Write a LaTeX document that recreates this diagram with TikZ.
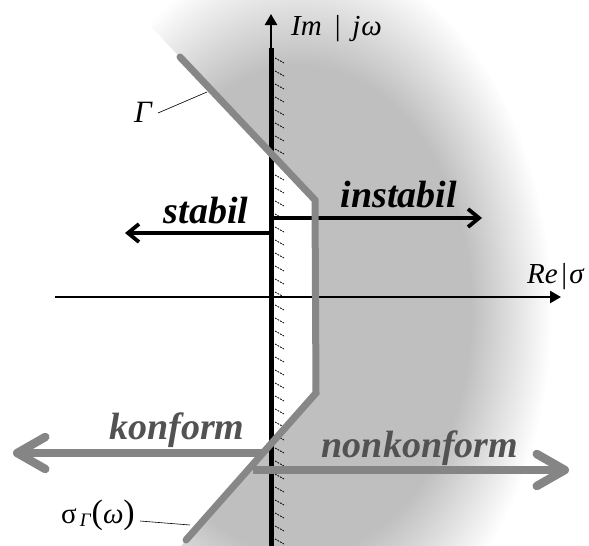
\documentclass[tikz,border=0pt]{standalone}
\usepackage{fontspec}
\setmainfont{Liberation Serif}
\usetikzlibrary{arrows.meta, positioning}

\pgfdeclareradialshading{glow}{\pgfpoint{0bp}{0bp}}{%
  color(0bp)=(black!25); color(17bp)=(black!25); color(25bp)=(white); color(50bp)=(white)}

\begin{document}
\begin{tikzpicture}[
      x=1pt, y=-1pt,
      axis/.style={line width=2.5pt, -{Triangle[length=11pt, width=12pt]}},
      hatch/.style={line width=0.8pt, dash pattern=on 1.8pt off 1.1pt},
      gamma/.style={line width=7pt, color=black!47},
      blackarr/.style={line width=3.8pt, -{Straight Barb[length=11pt, width=18pt]}},
      grayarr/.style={line width=8.5pt, color=black!48, -{Straight Barb[length=28pt, width=32pt, round]}},
      lbl/.style={font=\fontsize{38}{40}\selectfont\bfseries\itshape, anchor=base, inner sep=0pt},
      glbl/.style={lbl, text=black!68},
      axlbl/.style={font=\fontsize{29}{32}\selectfont, inner sep=0pt},
      leader/.style={line width=0.6pt}
    ]
    \useasboundingbox (0,0) rectangle (589,546);

    % Punkte
    \coordinate (g1) at (180,57);
    \coordinate (g2) at (315,200);
    \coordinate (g3) at (316,393);
    \coordinate (g4) at (186,540);
    \coordinate (ybot) at (271,546);
    \coordinate (ymid) at (271,48);
    \coordinate (ytop) at (271,14);
    \coordinate (xl) at (55,297);
    \coordinate (xr) at (561,297);

    % Schattierung rechts von Gamma
    \begin{scope}
      \clip (120,-6) -- (g2) -- (g3) -- (160,570) -- (600,570) -- (600,-6) -- cycle;
      \shade[shading=glow] (300,310) ellipse [x radius=252, y radius=360];
    \end{scope}

    % Achsen
    \draw[line width=2.5pt, -{Triangle[length=11pt, width=12pt]}] (xl) -- (xr);
    \foreach \y in {58,71,...,545}
      \draw[hatch] (275,\y) -- ++(9,5);
    \draw[line width=5pt] (ybot) -- (ymid);
    \draw[axis] (ymid) -- (ytop);

    % stabil / instabil
    \coordinate (s0) at (271,233);
    \coordinate (s1) at (125,233);
    \coordinate (i0) at (271,218);
    \coordinate (i1) at (482,218);
    \draw[blackarr] (s0) -- (s1);
    \draw[blackarr] (i0) -- (i1);
    \node[lbl] (stab) at (206,223) {stabil};
    \node[lbl] (instab) at (399,207) {instabil};

    % Kontur Gamma
    \draw[gamma, line cap=round] (g1) -- (g2) -- (g3) -- (g4);

    % konform / nonkonform
    \coordinate (k0) at (262,453);
    \coordinate (k1) at (13,453);
    \coordinate (n0) at (253,470);
    \coordinate (n1) at (569,470);
    \draw[grayarr] (k0) -- (k1);
    \draw[grayarr] (n0) -- (n1);
    \node[glbl] (konf) at (177,439) {konform};
    \node[glbl] (nonkonf) at (420,457) {nonkonform};

    % Beschriftungen
    \node[axlbl, anchor=base west] (imlbl) at (291,35)
      {\textit{Im}\hspace{0.45em}|\hspace{0.4em}\textit{j\kern1pt ω}};
    \node[axlbl, anchor=base west] (relbl) at (527,283)
      {\textit{Re}\hspace{0.12em}|\hspace{0.08em}\textit{σ}};
    \node[axlbl, anchor=base east, font=\fontsize{31}{32}\selectfont\itshape] (glbl) at (152,122) {Γ};
    \node[axlbl, anchor=base east] (sglbl) at (135,523)
      {σ\raisebox{-0.25ex}{\fontsize{19}{20}\selectfont\itshape\,Γ}\kern1pt{\fontsize{34}{34}\selectfont(}\textit{ω}{\fontsize{34}{34}\selectfont)}};
    \coordinate (gL) at (207,92);
    \coordinate (sL) at (190,525);
    \draw[leader] ([shift={(6,-9)}]glbl.base east) -- (gL);
    \draw[leader] ([shift={(5,-2)}]sglbl.base east) -- (sL);
  \end{tikzpicture}
\end{document}
